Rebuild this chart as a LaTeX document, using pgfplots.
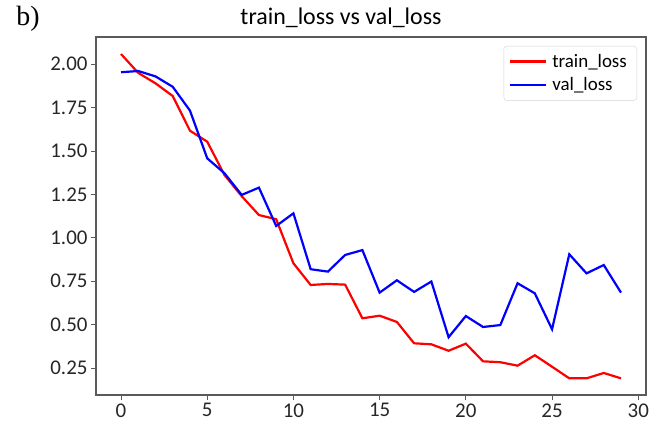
\documentclass[border=0pt]{standalone}
\usepackage{fontspec}
\setmainfont{Carlito}
\newfontfamily\serifb{Liberation Serif}
\usepackage{pgfplots}
\pgfplotsset{compat=1.18}
\definecolor{axgray}{RGB}{90,90,90}
\definecolor{leggray}{RGB}{210,210,210}
\begin{document}
\begin{tikzpicture}[x=1bp,y=1bp]
\useasboundingbox (0,0) rectangle (661,432);
\begin{axis}[
  at={(96bp,37bp)}, anchor=south west,
  scale only axis, width=550bp, height=358bp,
  xmin=-1.45, xmax=30.45, ymin=0.094, ymax=2.157,
  xtick={0,5,...,30},
  ytick={0.25,0.5,...,2.0},
  /pgf/number format/assume math mode=true,
  yticklabel style={/pgf/number format/fixed,/pgf/number format/fixed zerofill,/pgf/number format/precision=2},
  tick label style={font=\fontsize{21}{25}\selectfont, text=black!85},
  tick align=outside, tick pos=left,
  major tick length=5bp,
  every tick/.style={axgray, line width=0.8bp},
  axis line style={axgray, line width=1.2bp},
  legend style={at={(1,1)}, anchor=north east, xshift=-9bp, yshift=-9bp,
    draw=leggray, rounded corners=3bp, font=\fontsize{19}{23}\selectfont,
    inner xsep=5bp, inner ysep=6bp, row sep=5bp,
    nodes={inner xsep=5bp}},
  legend cell align=left,
  legend image code/.code={\draw[#1, line width=2.5bp] (0bp,0bp) -- (36bp,0bp);},
]
\addplot[red, line width=2.2bp] coordinates {
(0,2.059) (1,1.950) (2,1.890) (3,1.817) (4,1.617) (5,1.554) (6,1.362) (7,1.240)
(8,1.131) (9,1.107) (10,0.853) (11,0.728) (12,0.734) (13,0.730) (14,0.536)
(15,0.551) (16,0.515) (17,0.392) (18,0.386) (19,0.349) (20,0.390) (21,0.288)
(22,0.283) (23,0.263) (24,0.323) (25,0.257) (26,0.190) (27,0.190) (28,0.221) (29,0.190)
};
\addlegendentry{train\_loss}
\addplot[blue, line width=2.2bp] coordinates {
(0,1.954) (1,1.961) (2,1.930) (3,1.870) (4,1.733) (5,1.458) (6,1.372) (7,1.247)
(8,1.289) (9,1.068) (10,1.141) (11,0.819) (12,0.805) (13,0.901) (14,0.929)
(15,0.684) (16,0.755) (17,0.688) (18,0.748) (19,0.427) (20,0.549) (21,0.486)
(22,0.497) (23,0.738) (24,0.680) (25,0.473) (26,0.905) (27,0.795) (28,0.843) (29,0.684)
};
\addlegendentry{val\_loss}
\end{axis}
\node[font=\fontsize{24}{28}\selectfont] at (341,414) {train\_loss vs val\_loss};
\node[font=\serifb\fontsize{28}{32}\selectfont] at (28,413) {b)};
\end{tikzpicture}
\end{document}
